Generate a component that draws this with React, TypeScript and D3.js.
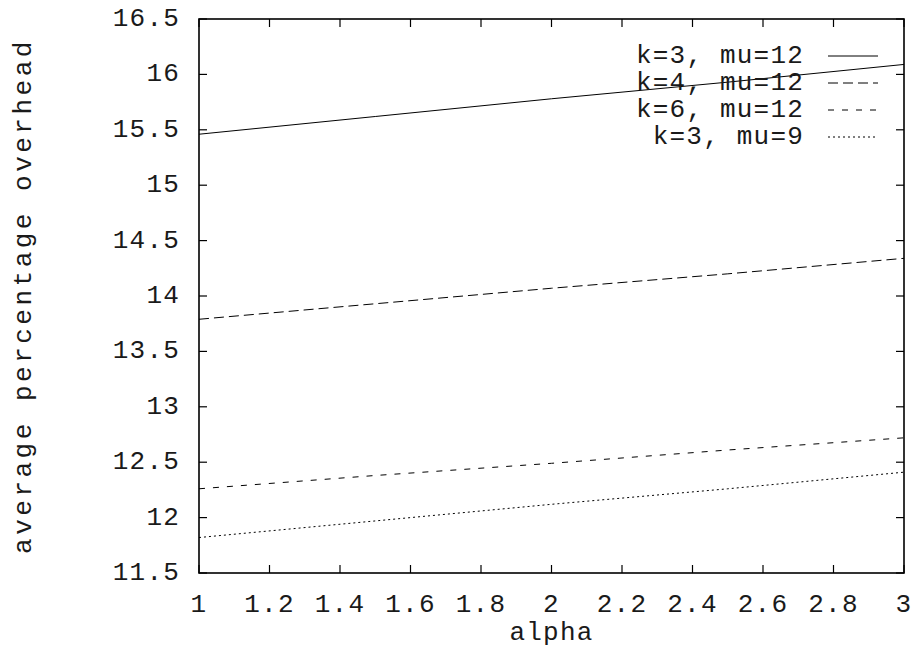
import React, { useEffect, useRef } from 'react';
import * as d3 from 'd3';

const alphaValues = [1, 1.5, 2, 2.5, 3];
const k3mu12 = [15.46, 15.62, 15.78, 15.93, 16.09];
const k4mu12 = [13.79, 13.93, 14.07, 14.2, 14.34];
const k6mu12 = [12.26, 12.38, 12.49, 12.61, 12.72];
const k3mu9 = [11.82, 11.97, 12.12, 12.26, 12.41];
const seriesNames = ['k=3, mu=12', 'k=4, mu=12', 'k=6, mu=12', 'k=3, mu=9'];
const xTicks = [1, 1.2, 1.4, 1.6, 1.8, 2, 2.2, 2.4, 2.6, 2.8, 3];
const yTicks = [11.5, 12, 12.5, 13, 13.5, 14, 14.5, 15, 15.5, 16, 16.5];

const dashes = ['none', '10,5', '6,8', '2,3'];
const FONT = '"Liberation Mono", "DejaVu Sans Mono", monospace';

const App = () => {
  const svgRef = useRef<SVGSVGElement>(null);

  useEffect(() => {
    const W = 914, H = 651;
    const left = 199, right = 904, top = 19, bottom = 573;
    const svg = d3.select(svgRef.current);
    svg.selectAll('*').remove();
    svg.attr('width', W).attr('height', H);

    const x = d3.scaleLinear().domain([1, 3]).range([left, right]);
    const y = d3.scaleLinear().domain([11.5, 16.5]).range([bottom, top]);

    const g = svg.append('g');
    const tickLen = 8;

    const txt = (sel: any) => sel.style('font-family', FONT).style('font-size', '26px')
      .style('letter-spacing', '1.2px').attr('fill', '#1a1a1a');

    // ticks on all four sides
    xTicks.forEach(t => {
      g.append('line').attr('x1', x(t)).attr('x2', x(t)).attr('y1', bottom).attr('y2', bottom - tickLen)
        .attr('stroke', '#000').attr('stroke-width', 1.2);
      g.append('line').attr('x1', x(t)).attr('x2', x(t)).attr('y1', top).attr('y2', top + tickLen)
        .attr('stroke', '#000').attr('stroke-width', 1.2);
      g.append('text').attr('x', x(t)).attr('y', 605).attr('text-anchor', 'middle')
        .attr('dominant-baseline', 'central').call(txt)
        .text(String(t));
    });
    yTicks.forEach(t => {
      g.append('line').attr('x1', left).attr('x2', left + tickLen).attr('y1', y(t)).attr('y2', y(t))
        .attr('stroke', '#000').attr('stroke-width', 1.2);
      g.append('line').attr('x1', right).attr('x2', right - tickLen).attr('y1', y(t)).attr('y2', y(t))
        .attr('stroke', '#000').attr('stroke-width', 1.2);
      g.append('text').attr('x', 180).attr('y', y(t)).attr('text-anchor', 'end')
        .attr('dominant-baseline', 'central').call(txt)
        .text(String(t));
    });

    // frame
    g.append('rect').attr('x', left).attr('y', top).attr('width', right - left).attr('height', bottom - top)
      .attr('fill', 'none').attr('stroke', '#000').attr('stroke-width', 1.6);

    const series = [k3mu12, k4mu12, k6mu12, k3mu9];
    const line = d3.line<number>().x((_, i) => x(alphaValues[i])).y(d => y(d));
    series.forEach((s, i) => {
      g.append('path').datum(s).attr('d', line).attr('fill', 'none').attr('stroke', '#000')
        .attr('stroke-width', 1).attr('stroke-dasharray', dashes[i]);
    });

    // legend
    const rowY = [56, 83, 110, 137];
    seriesNames.forEach((n, i) => {
      g.append('text').attr('x', 804).attr('y', rowY[i]).attr('text-anchor', 'end')
        .attr('dominant-baseline', 'central').call(txt)
        .text(n).attr('xml:space', 'preserve');
      g.append('line').attr('x1', 828).attr('x2', 878).attr('y1', rowY[i]).attr('y2', rowY[i])
        .attr('stroke', '#000').attr('stroke-width', 1).attr('stroke-dasharray', dashes[i]);
    });

    // axis titles
    g.append('text').attr('x', (left + right) / 2).attr('y', 633).attr('text-anchor', 'middle')
      .attr('dominant-baseline', 'central').call(txt)
      .text('alpha');
    g.append('text').attr('transform', `translate(24,${(top + bottom) / 2}) rotate(-90)`)
      .attr('text-anchor', 'middle').attr('dominant-baseline', 'central')
      .call(txt).style('letter-spacing', '3.5px')
      .text('average percentage overhead');
  }, []);

  return <svg ref={svgRef} style={{ position: 'absolute', left: 0, top: 0, background: '#fff' }}></svg>;
};

export default App;
